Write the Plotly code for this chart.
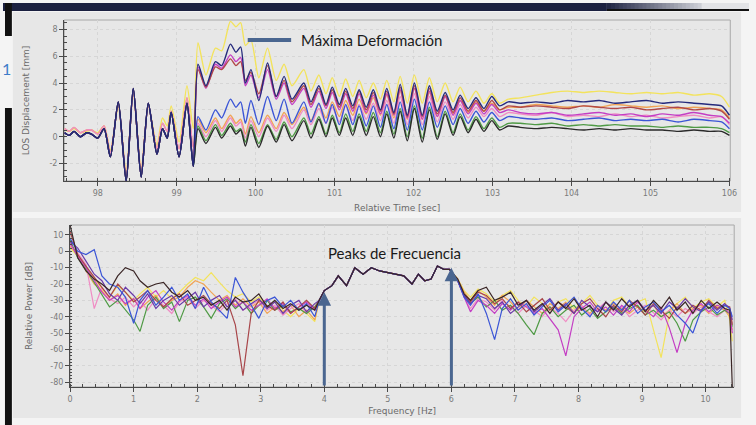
import plotly.graph_objects as go

W, H = 756, 425

# ---------------- time domain: LOS displacement [mm] ----------------
# knot times (s); onset part is common to every sensor
t_onset = [97.58, 97.64, 97.70, 97.78, 97.86, 97.92, 98.00, 98.08, 98.16, 98.26,
           98.36, 98.45, 98.55, 98.64, 98.75, 98.82, 98.88, 98.93, 99.03, 99.13, 99.21]
t_main = [99.27, 99.37, 99.49, 99.57, 99.68, 99.75, 99.81, 99.87, 99.94, 100.04,
          100.15, 100.26, 100.36, 100.46, 100.61, 100.70, 100.80, 100.89, 100.97, 101.06,
          101.14, 101.23, 101.31, 101.40, 101.49, 101.58, 101.66, 101.75, 101.83, 101.92,
          102.01, 102.11, 102.20, 102.30, 102.40, 102.50, 102.59, 102.69, 102.79, 102.89,
          102.99, 103.09, 103.20,
          103.35, 103.55, 103.75, 103.95, 104.15, 104.35, 104.55, 104.75, 104.95, 105.15,
          105.35, 105.55, 105.75, 105.90, 106.00]

onset_dark = [0.3, 0.1, 0.4, 0.0, 0.3, 0.2, -0.1, 0.6, -1.5, 2.6,
              -3.3, 3.6, -3.0, 2.5, -1.3, 0.6, -0.1, 1.8, -1.5, 2.5, -2.2]
onset_light = [0.6, 0.4, 0.7, 0.3, 0.5, 0.5, 0.2, 0.8, -1.2, 2.4,
               -2.9, 3.3, -2.6, 2.3, -0.9, 1.0, 0.4, 1.9, -0.9, 2.9, -0.8]
onset_yellow = [0.5, 0.4, 0.6, 0.3, 0.4, 0.5, 0.3, 0.8, -1.0, 2.2,
                -2.6, 3.2, -2.4, 2.3, -0.6, 1.4, 0.8, 2.3, -0.4, 3.8, 0.6]

disp_yellow = [7.0, 4.6, 6.6, 6.4, 8.6, 8.2, 8.5, 6.8, 7.2, 4.4, 6.6, 4.2, 5.4, 3.8, 5.0, 3.4, 4.6, 3.2, 4.4, 3.0,
               4.3, 3.0, 4.2, 2.9, 4.0, 2.8, 4.2, 2.6, 4.5, 2.5, 4.6, 2.5, 4.4, 2.6, 4.0, 2.6, 3.7, 2.6, 3.4, 2.5,
               3.2, 2.5, 2.8,
               2.9, 3.1, 3.3, 3.4, 3.3, 3.4, 3.3, 3.2, 3.3, 3.2, 3.3, 3.1, 3.2, 3.0, 2.2]
disp_navy = [5.4, 3.8, 5.6, 5.3, 6.9, 6.3, 6.7, 4.0, 5.0, 2.7, 5.5, 3.0, 4.5, 2.8, 4.0, 2.6, 3.8, 2.4, 3.7, 2.4,
             3.6, 2.3, 3.5, 2.2, 3.5, 2.0, 3.6, 1.8, 3.9, 1.6, 4.0, 1.6, 3.8, 1.9, 3.3, 2.0, 3.1, 2.1, 2.9, 2.1,
             3.0, 2.3, 2.6,
             2.5, 2.6, 2.5, 2.7, 2.6, 2.7, 2.5, 2.6, 2.7, 2.5, 2.6, 2.5, 2.4, 2.3, 1.6]
disp_red = [5.0, 3.7, 5.2, 5.0, 5.8, 5.3, 5.6, 4.2, 4.8, 3.2, 5.3, 3.0, 4.2, 2.6, 3.8, 2.4, 3.6, 2.3, 3.5, 2.2,
            3.4, 2.1, 3.4, 2.0, 3.3, 1.9, 3.4, 1.7, 3.7, 1.5, 3.8, 1.5, 3.6, 1.7, 3.1, 1.8, 2.9, 1.9, 2.7, 1.9,
            2.7, 2.0, 2.3,
            2.2, 2.3, 2.2, 2.1, 2.3, 2.2, 2.1, 2.2, 2.0, 2.1, 2.2, 2.0, 2.1, 1.9, 1.3]
disp_magenta = [5.2, 3.6, 5.4, 5.1, 6.1, 5.6, 5.9, 3.8, 4.6, 2.9, 5.0, 2.8, 4.0, 2.4, 3.6, 2.2, 3.4, 2.1, 3.3, 2.0,
                3.2, 1.9, 3.2, 1.8, 3.1, 1.7, 3.2, 1.6, 3.5, 1.4, 3.6, 1.3, 3.4, 1.5, 3.0, 1.6, 2.7, 1.7, 2.5, 1.7,
                2.4, 1.8, 2.0,
                1.8, 1.7, 1.8, 1.6, 1.7, 1.8, 1.6, 1.7, 1.5, 1.7, 1.6, 1.8, 1.6, 1.5, 1.0]
disp_orange = [1.3, 0.3, 1.4, 0.6, 1.6, 1.0, 1.3, 0.2, 1.5, 0.3, 1.6, 0.6, 1.8, 0.9, 2.2, 1.2, 2.4, 1.4, 2.6, 1.5,
               2.7, 1.6, 2.8, 1.7, 2.9, 1.6, 3.1, 1.4, 3.4, 1.3, 3.6, 1.3, 3.3, 1.5, 3.0, 1.7, 2.7, 1.8, 2.6, 1.9,
               2.5, 2.0, 2.2,
               2.2, 2.4, 2.3, 2.2, 2.3, 2.2, 2.4, 2.3, 2.2, 2.3, 2.1, 2.2, 2.1, 2.0, 1.4]
disp_pink = [1.0, 0.0, 1.2, 0.4, 1.4, 0.8, 1.1, -0.1, 1.2, 0.0, 1.4, 0.4, 1.6, 0.6, 2.0, 0.9, 2.1, 1.0, 2.2, 1.1,
             2.3, 1.2, 2.4, 1.3, 2.5, 1.2, 2.7, 1.0, 3.0, 0.9, 3.2, 0.9, 3.0, 1.1, 2.6, 1.3, 2.4, 1.4, 2.2, 1.5,
             2.1, 1.5, 1.8,
             1.7, 1.6, 1.8, 1.5, 1.6, 1.5, 1.7, 1.5, 1.6, 1.4, 1.5, 1.6, 1.4, 1.5, 0.9]
disp_blue = [1.5, 0.5, 2.0, 1.4, 2.8, 2.2, 2.6, 1.0, 2.7, 0.9, 3.0, 1.2, 2.8, 1.0, 2.6, 1.1, 2.5, 1.0, 2.4, 0.9,
             2.4, 0.9, 2.3, 0.8, 2.3, 0.7, 2.4, 0.6, 2.6, 0.5, 2.8, 0.5, 2.6, 0.7, 2.3, 0.9, 2.1, 1.0, 1.9, 1.1,
             1.8, 1.2, 1.5,
             1.4, 1.3, 1.4, 1.2, 1.3, 1.4, 1.2, 1.3, 1.2, 1.3, 1.1, 1.3, 1.2, 1.1, 0.6]
disp_green = [0.8, -0.3, 0.9, 0.1, 1.0, 0.4, 0.6, -0.4, 0.9, -0.5, 0.9, -0.2, 1.1, 0.0, 1.4, 0.2, 1.5, 0.2, 1.6, 0.3,
              1.7, 0.4, 1.7, 0.4, 1.8, 0.3, 1.9, 0.2, 2.1, 0.0, 2.3, -0.1, 2.2, 0.0, 1.9, 0.3, 1.7, 0.5, 1.5, 0.6,
              1.4, 0.7, 1.0,
              1.0, 0.9, 1.0, 0.8, 0.9, 0.8, 0.9, 0.8, 0.8, 0.7, 0.8, 0.7, 0.7, 0.6, 0.3]
disp_black = [0.6, -0.5, 0.7, -0.1, 0.8, 0.2, 0.5, -0.7, 0.7, -0.8, 0.8, -0.4, 0.9, -0.3, 1.2, -0.1, 1.3, 0.0, 1.4, 0.1,
              1.4, 0.1, 1.5, 0.1, 1.5, 0.0, 1.7, -0.1, 1.9, -0.3, 2.1, -0.4, 2.0, -0.2, 1.7, 0.1, 1.5, 0.3, 1.3, 0.4,
              1.2, 0.5, 0.8,
              0.7, 0.6, 0.7, 0.6, 0.5, 0.6, 0.5, 0.6, 0.5, 0.5, 0.4, 0.5, 0.4, 0.4, 0.1]

# (name, colour, onset part, main part) in drawing order
time_series = [
    ("S9", "#f3e35c", onset_yellow, disp_yellow),
    ("S6", "#f1a456", onset_light, disp_orange),
    ("S7", "#f08cc4", onset_light, disp_pink),
    ("S8", "#4f9a45", onset_dark, disp_green),
    ("S5", "#c43ec4", onset_dark, disp_magenta),
    ("S4", "#b04848", onset_dark, disp_red),
    ("S3", "#3b55d6", onset_dark, disp_blue),
    ("S2", "#2a2a2a", onset_dark, disp_black),
    ("S1", "#252a7c", onset_dark, disp_navy),
]

# ---------------- spectrum: relative power [dB] ----------------
f_low = [0, 0.12, 0.25, 0.38, 0.5, 0.62, 0.75, 0.87, 1.0, 1.1, 1.22, 1.35, 1.47, 1.6, 1.72, 1.85,
         1.97, 2.1, 2.22, 2.35, 2.47, 2.6, 2.72, 2.85, 2.97, 3.1, 3.22, 3.35, 3.47, 3.6, 3.72, 3.85]
f_band = [3.92, 4.0, 4.12, 4.22, 4.35, 4.48, 4.61, 4.74, 4.87, 5.0, 5.12, 5.25, 5.38, 5.48,
          5.58, 5.68, 5.78, 5.88, 5.97]
db_band = [-30, -24, -21, -15, -21, -10, -14, -10, -12, -13, -14, -15, -20, -14,
           -18, -17, -9, -11, -11]
f_high = [6.1, 6.2, 6.3, 6.42, 6.55, 6.68, 6.8, 6.93, 7.05, 7.18, 7.3, 7.43, 7.55, 7.68, 7.8,
          7.93, 8.05, 8.18, 8.3, 8.43, 8.55, 8.68, 8.8, 8.93, 9.05, 9.18, 9.3, 9.43, 9.55, 9.68,
          9.8, 9.93, 10.05, 10.18, 10.3, 10.38, 10.42]

db_low_black = [16, -4, -12, -17, -20, -24, -15, -10, -12, -18, -22, -20, -19, -25, -28, -24,
                -30, -28, -33, -30, -36, -28, -31, -30, -26, -34, -30, -35, -32, -36, -33, -36]
db_low_blue = [8, 0, -2, 1, -15, -20, -22, -28, -44, -30, -24, -33, -28, -22, -30, -26,
               -35, -22, -31, -36, -41, -16, -25, -33, -41, -30, -28, -34, -30, -36, -32, -40]
db_low_purple = [6, 2, -6, -14, -18, -26, -30, -22, -27, -32, -26, -35, -30, -27, -33, -29,
                 -25, -34, -30, -27, -34, -30, -36, -32, -29, -35, -31, -38, -33, -30, -37, -32]
db_low_red = [12, -2, -9, -16, -22, -28, -20, -25, -31, -28, -24, -30, -34, -29, -26, -33,
              -30, -27, -32, -35, -30, -45, -76, -38, -30, -33, -36, -31, -38, -34, -30, -35]
db_low_magenta = [5, -3, -10, -18, -25, -30, -27, -32, -29, -35, -28, -24, -31, -36, -30, -27,
                  -33, -29, -35, -31, -28, -34, -31, -36, -33, -29, -35, -32, -38, -34, -31, -36]
db_low_pink = [4, -1, -8, -35, -22, -29, -32, -28, -34, -30, -36, -29, -33, -38, -31, -28,
               -35, -30, -33, -37, -32, -29, -36, -33, -30, -36, -33, -39, -35, -32, -38, -34]
db_low_orange = [3, -2, -12, -20, -24, -30, -26, -33, -29, -35, -31, -27, -34, -30, -28, -22,
                 -18, -20, -25, -30, -27, -33, -29, -34, -31, -38, -34, -37, -33, -40, -36, -42]
db_low_yellow = [2, -3, -10, -17, -23, -28, -21, -25, -30, -26, -22, -28, -24, -29, -25, -20,
                 -16, -18, -13, -19, -24, -28, -26, -31, -28, -34, -31, -36, -40, -35, -38, -43]
db_low_green = [7, -4, -11, -19, -26, -34, -30, -36, -42, -49, -33, -28, -35, -31, -43, -30,
                -28, -34, -41, -32, -29, -35, -31, -38, -33, -30, -36, -33, -37, -35, -38, -34]

db_high_black = [-17, -26, -30, -24, -22, -30, -28, -25, -33, -30, -36, -32, -38, -31, -35, -29,
                 -36, -33, -40, -31, -36, -29, -34, -30, -37, -30, -35, -28, -36, -31, -38, -30,
                 -35, -31, -35, -36, -83]
db_high_blue = [-18, -28, -33, -26, -38, -54, -35, -29, -36, -32, -39, -34, -30, -37, -33, -28,
                -35, -40, -33, -37, -31, -36, -30, -38, -34, -31, -37, -33, -39, -44, -50, -36,
                -32, -38, -33, -35, -40]
db_high_purple = [-18, -27, -32, -27, -29, -35, -31, -38, -34, -30, -37, -33, -29, -36, -32, -38,
                  -30, -34, -37, -31, -35, -39, -33, -30, -36, -33, -38, -31, -35, -29, -34, -37,
                  -31, -36, -32, -35, -42]
db_high_red = [-18, -27, -31, -25, -27, -32, -29, -35, -31, -37, -33, -29, -36, -31, -34, -38,
               -32, -29, -35, -40, -33, -37, -30, -34, -39, -32, -36, -41, -34, -38, -33, -36,
               -30, -35, -33, -34, -45]
db_high_magenta = [-18, -28, -37, -30, -33, -38, -32, -36, -31, -34, -38, -35, -41, -48, -64, -40,
                   -35, -31, -37, -34, -39, -33, -37, -31, -36, -40, -34, -47, -62, -44, -36, -32,
                   -37, -33, -35, -38, -50]
db_high_pink = [-18, -28, -35, -29, -31, -36, -30, -34, -38, -33, -36, -40, -34, -38, -43, -36,
                -33, -39, -35, -31, -37, -34, -40, -36, -33, -38, -42, -36, -40, -35, -38, -34,
                -37, -40, -36, -38, -44]
db_high_orange = [-17, -25, -30, -24, -28, -33, -27, -31, -36, -30, -34, -38, -32, -35, -31, -37,
                  -34, -38, -33, -36, -32, -35, -38, -34, -37, -33, -40, -36, -32, -38, -35, -33,
                  -38, -34, -36, -40, -48]
db_high_yellow = [-17, -24, -28, -23, -26, -31, -27, -24, -30, -34, -28, -32, -36, -31, -29, -35,
                  -32, -27, -33, -37, -30, -28, -34, -31, -29, -48, -65, -38, -32, -28, -35, -31,
                  -29, -34, -30, -42, -55]
db_high_green = [-18, -27, -32, -28, -34, -30, -36, -33, -38, -45, -51, -38, -34, -40, -36, -33,
                 -39, -35, -41, -37, -34, -38, -35, -33, -39, -36, -40, -37, -44, -55, -42, -37,
                 -34, -39, -36, -38, -46]

spectra = [
    ("S9", "#f3e35c", db_low_yellow, db_high_yellow),
    ("S6", "#f1a456", db_low_orange, db_high_orange),
    ("S7", "#f08cc4", db_low_pink, db_high_pink),
    ("S8", "#4f9a45", db_low_green, db_high_green),
    ("S5", "#c43ec4", db_low_magenta, db_high_magenta),
    ("S4", "#a8464a", db_low_red, db_high_red),
    ("S3", "#6a3aa8", db_low_purple, db_high_purple),
    ("S2", "#3b55d6", db_low_blue, db_high_blue),
    ("S1", "#3a2626", db_low_black, db_high_black),
]

time_ticks = [98, 99, 100, 101, 102, 103, 104, 105, 106]
disp_ticks = [-2, 0, 2, 4, 6, 8]
freq_ticks = list(range(0, 11))
power_ticks = [10, 0, -10, -20, -30, -40, -50, -60, -70, -80]

for _, _, a, b in time_series:
    if len(a) != len(t_onset) or len(b) != len(t_main):
        raise ValueError("time series length mismatch")
for _, _, a, b in spectra:
    if len(a) != len(f_low) or len(b) != len(f_high):
        raise ValueError("spectrum length mismatch")
if len(db_band) != len(f_band):
    raise ValueError("band length mismatch")


def px(x):
    return x / W


def py(y):
    return 1 - y / H


fig = go.Figure()

t_all = t_onset + t_main
for name, col, onset, main in time_series:
    fig.add_trace(go.Scatter(x=t_all, y=onset + main, mode="lines", name=name,
                             line=dict(color=col, width=1.4, shape="spline", smoothing=0.7),
                             xaxis="x", yaxis="y", hoverinfo="skip"))

f_all = f_low + f_band + f_high
for name, col, low, high in spectra:
    fig.add_trace(go.Scatter(x=f_all, y=low + db_band + high, mode="lines", name=name,
                             line=dict(color=col, width=1.2),
                             xaxis="x2", yaxis="y2", hoverinfo="skip"))

tick_font = dict(family="DejaVu Sans", size=8, color="#7a7a7a")
title_font = dict(family="DejaVu Sans", size=9, color="#6a6a6a")
grid = dict(showgrid=True, gridcolor="#d6d6d6", griddash="dot", gridwidth=1)
axis_line = dict(showline=True, linecolor="#4a4a4a", linewidth=1.2, ticks="outside",
                 ticklen=4, tickcolor="#4a4a4a", tickfont=tick_font, zeroline=False)

fig.update_layout(
    width=W, height=H, margin=dict(l=0, r=0, t=0, b=0),
    paper_bgcolor="#f4f4f4", plot_bgcolor="#ffffff", showlegend=False,
    xaxis=dict(domain=[px(62), px(737)], range=[97.575, 106.01], anchor="y",
               tickvals=time_ticks, ticktext=[str(v) for v in time_ticks],
               title=dict(text="Relative Time [sec]", font=title_font, standoff=7),
               minor=dict(dtick=0.2, ticks="inside", ticklen=3, tickcolor="#4a4a4a"),
               **grid, **axis_line),
    yaxis=dict(domain=[py(181), py(20)], range=[-3.3, 8.7], anchor="x",
               tickvals=disp_ticks, ticktext=[str(v) for v in disp_ticks],
               title=dict(text="LOS Displacement [mm]", font=title_font, standoff=18),
               minor=dict(dtick=0.5, ticks="inside", ticklen=3, tickcolor="#4a4a4a"),
               **grid, **axis_line),
    xaxis2=dict(domain=[px(68), px(741)], range=[0, 10.45], anchor="y2",
                tickvals=freq_ticks, ticktext=[str(v) for v in freq_ticks],
                title=dict(text="Frequency [Hz]", font=title_font, standoff=4),
                minor=dict(dtick=0.2, ticks="inside", ticklen=3, tickcolor="#4a4a4a"),
                **grid, **axis_line),
    yaxis2=dict(domain=[py(387), py(225)], range=[-83, 16.1], anchor="x2",
                tickvals=power_ticks, ticktext=[str(v) for v in power_ticks],
                title=dict(text="Relative Power [dB]", font=title_font, standoff=16),
                minor=dict(dtick=2, ticks="inside", ticklen=2, tickcolor="#4a4a4a"),
                **grid, **axis_line),
)

shapes = []


def rect(x0, y0, x1, y1, fill, layer="below"):
    shapes.append(dict(type="rect", xref="paper", yref="paper", x0=px(x0), x1=px(x1),
                       y0=py(y1), y1=py(y0), fillcolor=fill, line=dict(width=0), layer=layer))


# slide header band, fading out on the right
rect(0, 3, 612, 11, "#1b2040")
n_fade = 24
for i in range(n_fade):
    k = (i + 1) / (n_fade + 1)
    r = int(0x1b + (0xd4 - 0x1b) * k)
    g = int(0x20 + (0xd6 - 0x20) * k)
    b = int(0x40 + (0xdc - 0x40) * k)
    rect(612 + i * 4, 3, 617 + i * 4, 9, f"rgb({r},{g},{b})")
rect(708, 3, 756, 9, "#e2e3e6")
rect(612, 9, 756, 11, "#111111")
# left slide edge
rect(2, 3, 9, 36, "#111111")
rect(2, 108, 9, 425, "#111111")
# chart panels
rect(10, 12, 748, 212, "#e7e7e7")
rect(10, 218, 748, 418, "#e7e7e7")

# light frame around both plotting areas
for xr, yr in (("x", "y"), ("x2", "y2")):
    shapes.append(dict(type="rect", xref=xr + " domain", yref=yr + " domain",
                       x0=0, x1=1, y0=0, y1=1, line=dict(color="#a8a8a8", width=1),
                       fillcolor="rgba(0,0,0,0)", layer="below"))

# key line for the displacement callout
shapes.append(dict(type="line", xref="paper", yref="paper", x0=px(248), x1=px(292),
                   y0=py(40), y1=py(40), line=dict(color="#4a6690", width=4)))
fig.update_layout(shapes=shapes)

call_font = dict(family="Lato", size=15, color="#1a1a1a")
annotations = [
    dict(text="Máxima Deformación", xref="paper", yref="paper", x=px(300), y=py(40),
         xanchor="left", yanchor="middle", showarrow=False, font=call_font),
    dict(text="Peaks de Frecuencia", xref="paper", yref="paper", x=px(327), y=py(253),
         xanchor="left", yanchor="middle", showarrow=False, font=call_font),
    dict(text="1", xref="paper", yref="paper", x=px(4), y=py(68), xanchor="center",
         yanchor="middle", showarrow=False, font=dict(family="Lato", size=16, color="#3d7cc9")),
]
# arrows marking the band edges
for f_edge, db_tip in ((4, -25), (6, -10)):
    annotations.append(dict(x=f_edge, y=db_tip, xref="x2", yref="y2", ax=f_edge, ay=-83,
                            axref="x2", ayref="y2", text="", showarrow=True, arrowhead=2,
                            arrowsize=0.9, arrowwidth=3, arrowcolor="#4a6690"))
fig.update_layout(annotations=annotations)

fig.write_html("out.html")
